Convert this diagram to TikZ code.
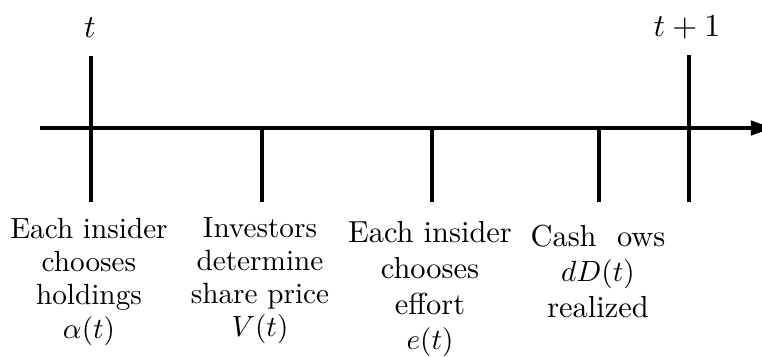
\documentclass[tikz,border=0pt]{standalone}
\usetikzlibrary{arrows.meta}
\begin{document}
\begin{tikzpicture}[x=0.342pt,y=-0.342pt,
  axisline/.style={line width=1.35pt},
  tickline/.style={line width=1.35pt},
  lbl/.style={align=center,anchor=north,inner sep=0pt,font=\fontsize{10}{11.3}\selectfont},
  lblb/.style={align=center,anchor=north,inner sep=0pt,font=\fontsize{10.4}{12.2}\selectfont},
  tlbl/.style={anchor=base,inner sep=0pt,font=\fontsize{11}{13}\selectfont}]
\useasboundingbox (0,0) rectangle (762,356);
% axis
\coordinate (a0) at (40,128);
\coordinate (a1) at (780,128);
\draw[axisline,-{Latex[length=10pt,width=5.4pt]}] (a0) -- (a1);
% ticks
\coordinate (t0top) at (91,56);
\coordinate (t0bot) at (91,202);
\coordinate (t1top) at (689,55);
\coordinate (t1bot) at (689,202);
\coordinate (m1top) at (262,128);
\coordinate (m1bot) at (262,202);
\coordinate (m2top) at (432,128);
\coordinate (m2bot) at (432,202);
\coordinate (m3top) at (599,128);
\coordinate (m3bot) at (599,202);
\draw[tickline] (t0top) -- (t0bot);
\draw[tickline] (t1top) -- (t1bot);
\draw[tickline] (m1top) -- (m1bot);
\draw[tickline] (m2top) -- (m2bot);
\draw[tickline] (m3top) -- (m3bot);
% top labels
\node[tlbl] (lt) at (90,37) {$t$};
\node[tlbl] (lt1) at (687,36) {$t+1$};
% bottom labels
\node[lbl] (c1) at (89,218) {Each insider\\chooses\\holdings\\$\alpha(t)$};
\node[lbl] (c2) at (260,217) {Investors\\determine\\share price\\$V(t)$};
\node[lblb] (c3) at (430,221) {Each insider\\chooses\\effort\\$e(t)$};
\node[lblb] (c4) at (598,224) {Cash\hspace*{7pt}ows\\$dD(t)$\\realized};
\end{tikzpicture}
\end{document}
